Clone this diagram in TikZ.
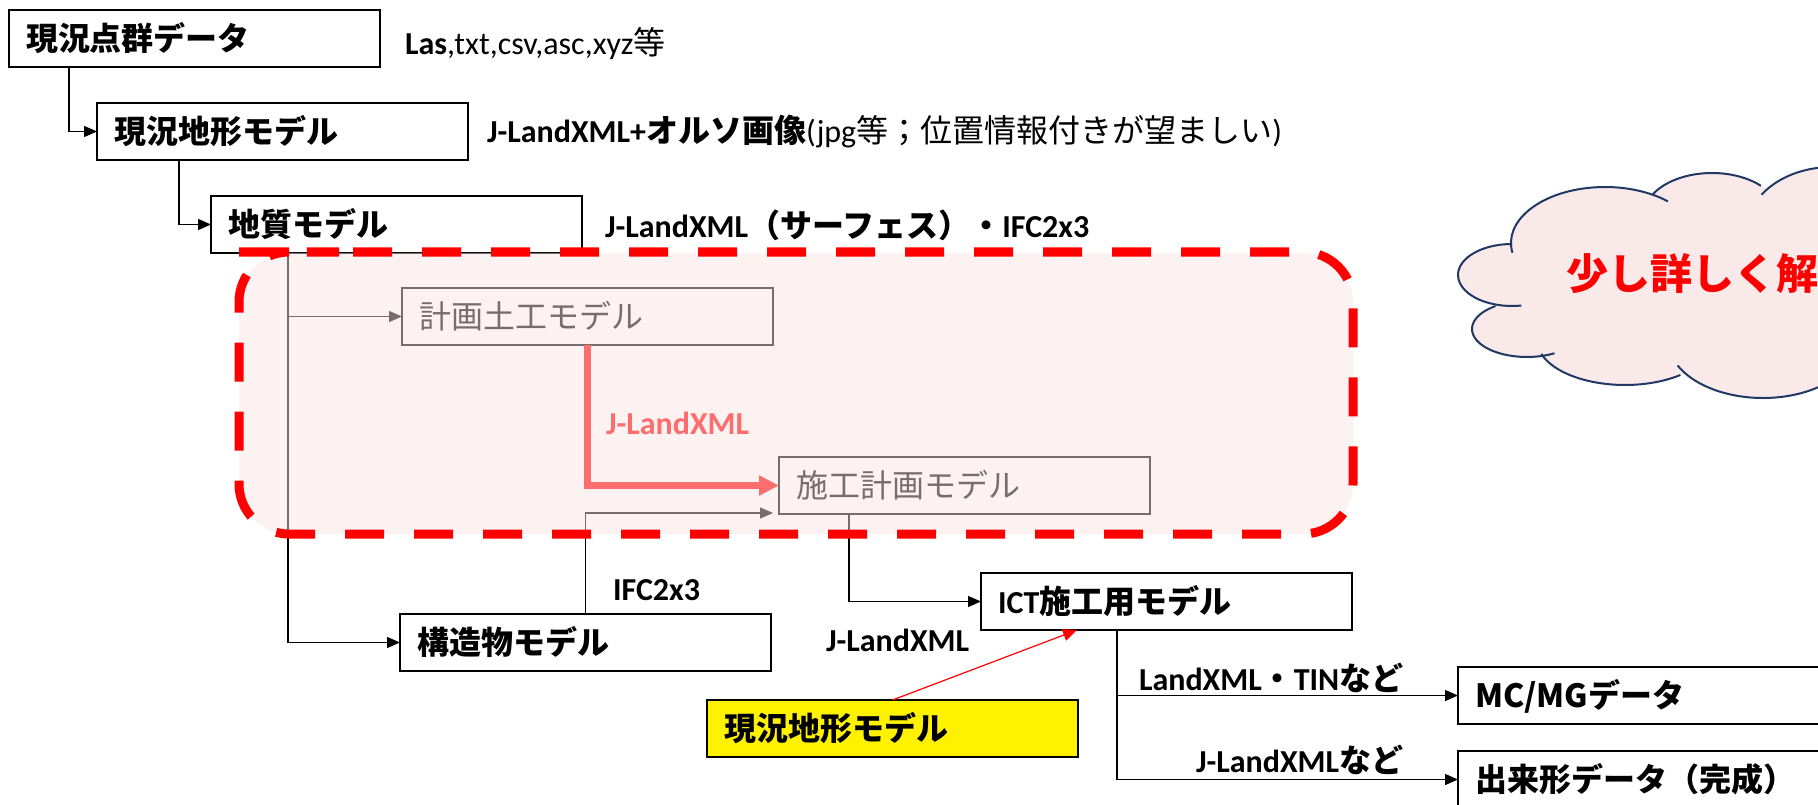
\documentclass[tikz,border=0pt]{standalone}
\usepackage{fontspec}
\setmainfont{Carlito}
\newfontfamily\jp{Noto Sans CJK JP}
\usetikzlibrary{arrows.meta}
\newcommand\latn[1]{{\rmfamily #1}}
\newcommand\jpn[1]{{\jp #1}}
\definecolor{ovl}{RGB}{250,229,229}
\definecolor{cloudfill}{RGB}{250,233,233}
\definecolor{cloudline}{RGB}{31,56,100}
\begin{document}
\begin{tikzpicture}[x=1pt,y=-1pt,
  every node/.style={inner sep=0pt, outer sep=0pt},
  box/.style={draw, line width=2pt, anchor=north west, minimum height=57pt,
    text width=337pt, inner xsep=17pt, inner ysep=0pt, align=left,
    text height=28.2pt, text depth=3.8pt,
    font=\fontsize{32}{38}\selectfont\jp\bfseries},
  lightbox/.style={box, font=\fontsize{32}{38}\selectfont\jp\mdseries},
  lab/.style={anchor=west, text height=28.2pt, text depth=3.8pt,
    font=\fontsize{32}{38}\selectfont\bfseries},
  conn/.style={line width=1.3pt, -{Triangle[length=13pt,width=11pt]}},
  cl/.style={draw=cloudline, line width=2pt},
]
\useasboundingbox (0,0) rectangle (1818,805);
\fill[white] (0,0) rectangle (1818,805);

% boxes
\node[box] (b1) at (9,10) {現況点群データ};
\node[box] (b2) at (97,103) {現況地形モデル};
\node[box] (b3) at (211,196) {地質モデル};
\node[lightbox] (b4) at (402,288) {計画土工モデル};
\node[lightbox] (b5) at (779,457) {施工計画モデル};
\node[box] (b6) at (400,614) {構造物モデル};
\node[box] (b7) at (981,573) {\latn{ICT}施工用モデル};
\node[box, fill=yellow] (b8) at (707,700) {現況地形モデル};
\node[box] (b9) at (1458,667) {MC/MGデータ};
\node[box] (b10) at (1458,751) {出来形データ（完成）};

% labels
\node[lab] (l1) at (405,42) {Las\mdseries,txt,csv,asc,xyz\jpn{等}};
\node[lab] (l2) at (487,130) {J-LandXML+\jpn{オルソ画像}\mdseries(jpg\jpn{等；位置情報付きが望ましい})};
\node[lab] (l3) at (605,225) {J-LandXML\jpn{（サーフェス）・}IFC2x3};
\node[lab, text=red] (l4) at (606,422) {J-LandXML};
\node[lab] (l5) at (613,588) {IFC2x3};
\node[lab] (l6) at (826,639) {J-LandXML};
\node[lab] (l7) at (1139,678) {LandXML\jpn{・}TIN\jpn{など}};
\node[lab] (l8) at (1196,760) {J-LandXML\jpn{など}};

% connectors
\draw[conn] ([xshift=60pt]b1.south west) |- (b2.west);
\draw[conn] ([xshift=82pt]b2.south west) |- (b3.west);
\draw[conn] ([xshift=77pt]b3.south west) |- (b4.west);
\draw[conn] ([xshift=77pt]b3.south west) |- (b6.west);
\draw[red, line width=6.5pt, -{Triangle[length=20pt,width=19pt]}] (b4.south) |- (b5.west);
\draw[conn] (b6.north) |- ([shift={(-6,-1)}]b5.south west);
\draw[conn] ([xshift=70pt]b5.south west) |- (b7.west);
\draw[red, line width=1.2pt, -{Triangle[length=14pt,width=12pt]}] (b8.north) -- ([xshift=96pt]b7.south west);
\draw[conn] ([xshift=136pt]b7.south west) |- (b9.west);
\draw[conn] ([xshift=136pt]b7.south west) |- (b10.west);

% translucent highlighted region
\fill[ovl, fill opacity=0.48, rounded corners=50pt] (239,253) rectangle (1353,534);
\draw[red, line width=9pt, dash pattern=on 39pt off 30pt, dash phase=55pt, rounded corners=50pt]
  (289,252) -- (1353,252) -- (1353,534) -- (239,534) -- (239,252) -- cycle;

% cloud
\fill[cloudfill] (1512,275) ellipse [x radius=54pt, y radius=31pt];
\fill[cloudfill] (1527,329) ellipse [x radius=55pt, y radius=28pt];
\fill[cloudfill] (1625,340) ellipse [x radius=88pt, y radius=45pt];
\fill[cloudfill] (1763,340) ellipse [x radius=95pt, y radius=58pt];
\fill[cloudfill] (1605,243) ellipse [x radius=94pt, y radius=56pt];
\fill[cloudfill] (1712,215) ellipse [x radius=68pt, y radius=42pt];
\fill[cloudfill] (1832,230) ellipse [x radius=85pt, y radius=63pt];
\fill[cloudfill] (1512,275) -- (1527,329) -- (1625,340) -- (1763,340) -- (1830,340)
  -- (1830,230) -- (1712,215) -- (1605,243) -- cycle;
\draw[cl] (1512,275) ++(90:54pt and 31pt) arc[start angle=90, end angle=280, x radius=54pt, y radius=31pt];
\draw[cl] (1527,329) ++(125:55pt and 28pt) arc[start angle=125, end angle=300, x radius=55pt, y radius=28pt];
\draw[cl] (1625,340) ++(198:88pt and 45pt) arc[start angle=198, end angle=309, x radius=88pt, y radius=45pt];
\draw[cl] (1763,340) ++(206:95pt and 58pt) arc[start angle=206, end angle=340, x radius=95pt, y radius=58pt];
\draw[cl] (1605,243) ++(190:94pt and 56pt) arc[start angle=190, end angle=48, x radius=94pt, y radius=56pt];
\draw[cl] (1712,215) ++(150:68pt and 42pt) arc[start angle=150, end angle=44, x radius=68pt, y radius=42pt];
\draw[cl] (1832,230) ++(146:85pt and 63pt) arc[start angle=146, end angle=30, x radius=85pt, y radius=63pt];
\node[anchor=west, text=red, font=\fontsize{42}{50}\selectfont\jp\bfseries,
  text height=37pt, text depth=5pt] (ct) at (1566,273) {少し詳しく解};
\end{tikzpicture}
\end{document}
